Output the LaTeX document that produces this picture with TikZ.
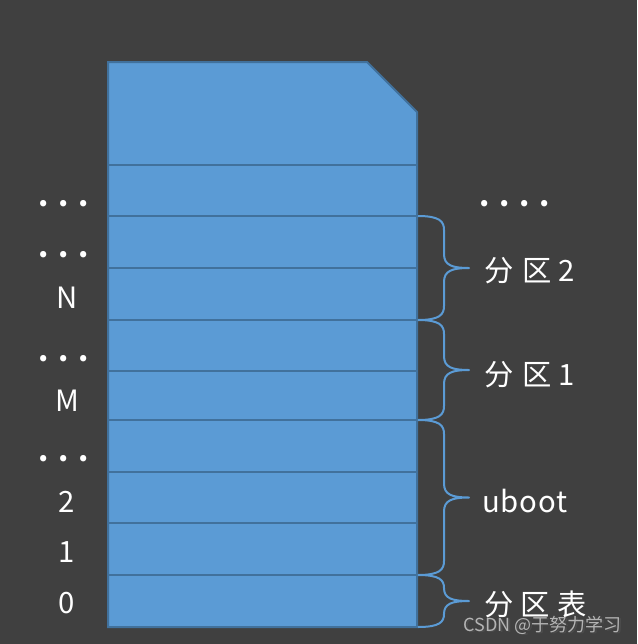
\documentclass[tikz,border=0pt]{standalone}
\usepackage{fontspec}
\newfontfamily\cjk{Noto Sans CJK SC}
\definecolor{bg}{HTML}{404040}
\definecolor{cardfill}{HTML}{5B9BD5}
\definecolor{cardline}{HTML}{41719C}
\definecolor{bracecol}{HTML}{5B9BD5}
\definecolor{wm}{HTML}{B4B4B4}
\tikzset{
  lbl/.style={text=white,font=\cjk\fontsize{22}{24}\selectfont,inner sep=0pt},
  dotlbl/.style={text=white,font=\cjk\bfseries\fontsize{22}{24}\selectfont,inner sep=0pt},
  rlbl/.style={lbl,anchor=west},
  bracestyle/.style={draw=bracecol,line width=1.5pt,line join=round},
  cellline/.style={draw=cardline,line width=1.2pt},
}
\begin{document}
\begin{tikzpicture}[x=0.75pt,y=-0.75pt]
\useasboundingbox (0,0) rectangle (637,644);
\fill[bg] (0,0) rectangle (637,644);
% card
\draw[fill=cardfill,draw=cardline,line width=1.5pt]
  (108,62) -- (367,62) -- (417,112) -- (417,627) -- (108,627) -- cycle;
\foreach \y in {165,216,268,320,371,420,472,523,575}
  \draw[cellline] (108,\y) -- (417,\y);
% left labels
\node[dotlbl] (d1) at (63.5,204) {.\hspace{7.3pt}.\hspace{7.3pt}.};
\node[dotlbl] (d2) at (63.5,255) {.\hspace{7.3pt}.\hspace{7.3pt}.};
\node[lbl] (lN) at (67,298) {N};
\node[dotlbl] (d3) at (63.5,359) {.\hspace{7.3pt}.\hspace{7.3pt}.};
\node[lbl] (lM) at (67,401) {M};
\node[dotlbl] (d4) at (63.5,459) {.\hspace{7.3pt}.\hspace{7.3pt}.};
\node[lbl] (l2) at (67,502) {2};
\node[lbl] (l1) at (67,552) {1};
\node[lbl] (l0) at (67,603) {0};
% right labels
\node[dotlbl] (d5) at (514.5,204) {.\hspace{7.3pt}.\hspace{7.3pt}.\hspace{7.3pt}.};
\node[rlbl] (p2) at (484,271) {分\hspace{7pt}区\hspace{4.5pt}2};
\node[rlbl] (p1) at (484,375) {分\hspace{7pt}区\hspace{4.5pt}1};
\node[rlbl] (ub) at (482,501) {u\hspace{0.6pt}b\hspace{0.6pt}o\hspace{0.6pt}o\hspace{0.6pt}t};
\node[rlbl] (pt) at (484,604) {分\hspace{5.5pt}区\hspace{5.5pt}表};
% braces
\foreach \t/\b in {216/320,320/420,420/575,575/627}{
  \pgfmathsetmacro{\m}{(\t+\b)/2}
  \pgfmathsetmacro{\r}{min(14,(\b-\t)/4)}
  \draw[bracestyle] (418,\t) .. controls (440,\t) and (444,\t+\r*0.4) .. (444,\t+\r)
    -- (444,\m-\r) .. controls (444,\m-\r*0.2) and (452,\m) .. (469,\m)
    .. controls (452,\m) and (444,\m+\r*0.2) .. (444,\m+\r)
    -- (444,\b-\r) .. controls (444,\b-\r*0.4) and (440,\b) .. (418,\b);
}
% watermark
\node[text=black!70,font=\cjk\fontsize{13.5}{15}\selectfont,anchor=east,inner sep=0pt] at (623.5,626.5) {CSDN @于努力学习};
\node[text=wm,font=\cjk\fontsize{13.5}{15}\selectfont,anchor=east,inner sep=0pt] (wmk) at (622,625) {CSDN @于努力学习};
\end{tikzpicture}
\end{document}
